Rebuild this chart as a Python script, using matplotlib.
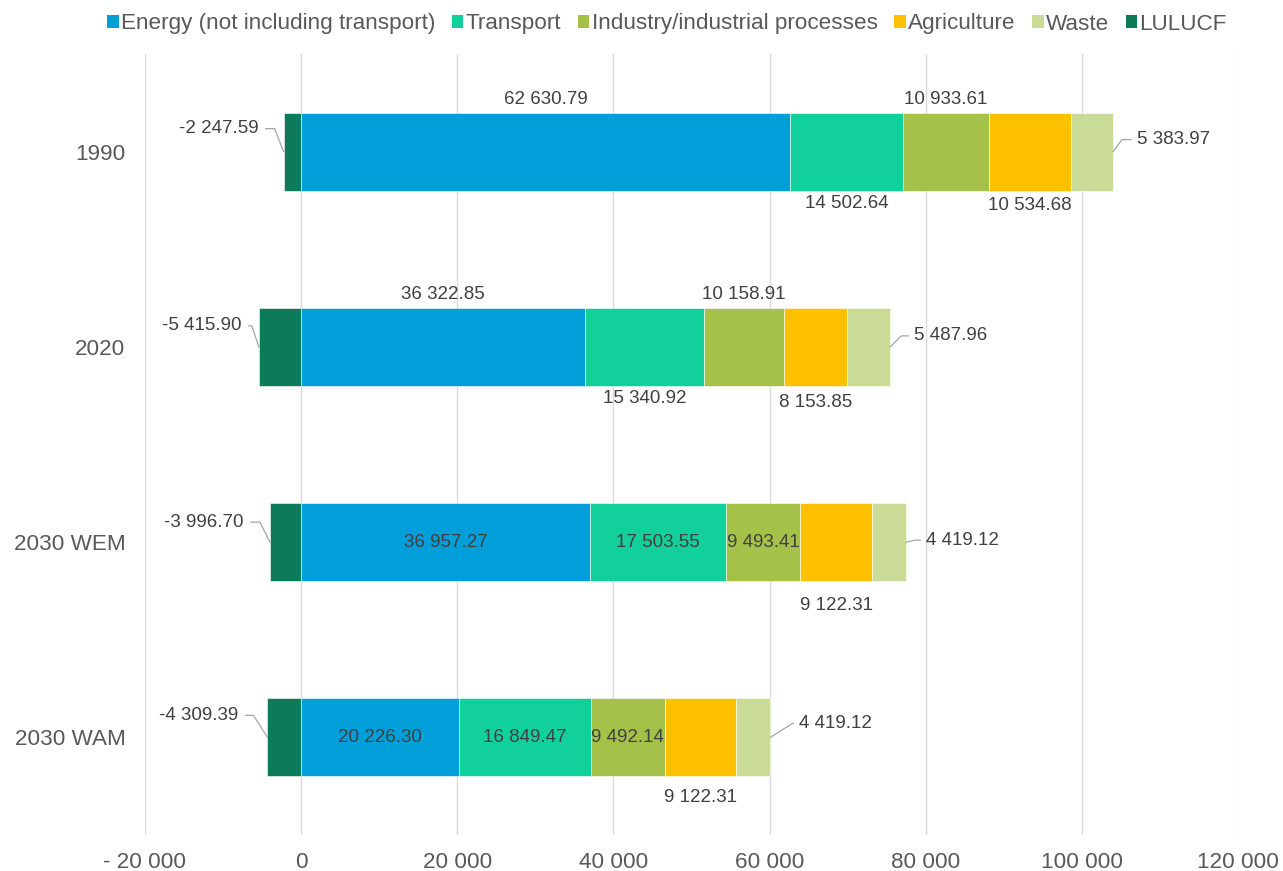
import matplotlib
matplotlib.use("Agg")
import matplotlib.pyplot as plt
import matplotlib.transforms as mtransforms
from matplotlib.patches import Patch
from matplotlib.ticker import FuncFormatter
import numpy as np

plt.rcParams['font.family'] = ['Liberation Sans', 'DejaVu Sans']

# ---------------- data ----------------
categories = ["1990", "2020", "2030 WEM", "2030 WAM"]
series_names = ["Energy (not including transport)", "Transport",
                "Industry/industrial processes", "Agriculture", "Waste", "LULUCF"]
energy = [62630.79, 36322.85, 36957.27, 20226.30]
transport = [14502.64, 15340.92, 17503.55, 16849.47]
industry = [10933.61, 10158.91, 9493.41, 9492.14]
agriculture = [10534.68, 8153.85, 9122.31, 9122.31]
waste = [5383.97, 5487.96, 4419.12, 4419.12]
lulucf = [-2247.59, -5415.90, -3996.70, -4309.39]
x_ticks = [-20000, 0, 20000, 40000, 60000, 80000, 100000, 120000]

# ---------------- styles ----------------
colors = ["#009FD9", "#12D09B", "#A6C14A", "#FFC000", "#C9DB96", "#0D7A5A"]
label_color = "#404040"
axis_color = "#595959"
grid_color = "#D9D9D9"
leader_color = "#A6A6A6"
fs = 13.5        # data labels
fs_axis = 16.2   # tick labels and legend

# label placement per series / category
placement = {
    0: ["above", "above", "inside", "inside"],
    1: ["below", "below", "inside", "inside"],
    2: ["above", "above", "inside", "inside"],
    3: ["below", "below", "below", "below"],
}
above_below_px = {0: [13, 13, 0, 0], 1: [13, 13, 0, 0], 2: [13, 13, 0, 0],
                  3: [15, 17, 24, 21]}
# leader geometry (pixels): text offset, corner x
lul_text_dx = [-25, -17, -26, -29]
lul_text_dy = [23, 21, 20, 22]
lul_corner_dx = [-9, -7, -10, -14]
was_text_dx = [24, 24, 20, 29]
was_text_dy = [12, 11, 2, 14]
was_corner_dx = [9, 11, 9, 22]

bar_h = 0.4


def fmt_num(v):
    s = f"{abs(v):,.2f}".replace(",", " ")
    return ("-" + s) if v < 0 else s


def fmt_tick(v, pos=None):
    s = f"{abs(v):,.0f}".replace(",", " ")
    return ("- " + s) if v < 0 else s


fig = plt.figure(figsize=(12.83, 8.71), dpi=100)
ax = fig.add_axes([145 / 1283, 1 - 835 / 871, (1238 - 145) / 1283, (835 - 54) / 871])

y = np.arange(len(categories))
pos_series = [energy, transport, industry, agriculture, waste]
left = np.zeros(len(categories))
lefts = []
for k, vals in enumerate(pos_series):
    ax.barh(y, vals, left=left, height=bar_h, color=colors[k],
            edgecolor="white", linewidth=0.4, zorder=3)
    lefts.append(left.copy())
    left = left + np.array(vals)
totals = left
ax.barh(y, lulucf, height=bar_h, color=colors[5], edgecolor="white",
        linewidth=0.4, zorder=3)

ax.set_xlim(-20000, 120000)
ax.set_ylim(len(categories) - 0.5, -0.5)
ax.set_xticks(x_ticks)
ax.xaxis.set_major_formatter(FuncFormatter(fmt_tick))
ax.set_yticks(y)
ax.set_yticklabels(categories)
ax.grid(axis="x", color=grid_color, linewidth=1, zorder=0)
ax.set_axisbelow(True)
for sp in ax.spines.values():
    sp.set_visible(False)
ax.tick_params(axis="both", length=0, labelsize=fs_axis, labelcolor=axis_color)
ax.tick_params(axis="x", pad=12.5)
ax.tick_params(axis="y", pad=14)

# data labels for the four main series
for k in range(4):
    vals = pos_series[k]
    for i in range(len(categories)):
        xc = lefts[k][i] + vals[i] / 2
        p = placement[k][i]
        if p == "inside":
            ax.text(xc, y[i], fmt_num(vals[i]), ha="center", va="center",
                    fontsize=fs, color=label_color, zorder=5)
        elif p == "above":
            ax.annotate(fmt_num(vals[i]), xy=(xc, y[i] - bar_h / 2),
                        xytext=(0, above_below_px[k][i]), textcoords="offset pixels",
                        ha="center", va="center", fontsize=fs, color=label_color)
        else:
            ax.annotate(fmt_num(vals[i]), xy=(xc, y[i] + bar_h / 2),
                        xytext=(0, -above_below_px[k][i]), textcoords="offset pixels",
                        ha="center", va="center", fontsize=fs, color=label_color)


def leader(x0, y0, pts):
    tr = mtransforms.Affine2D().scale(fig.dpi / 100) + \
        mtransforms.ScaledTranslation(x0, y0, ax.transData)
    xs, ys = zip(*pts)
    ax.plot(xs, ys, transform=tr, color=leader_color, lw=0.9, zorder=4,
            clip_on=False)


# LULUCF labels (left, with leader)
for i in range(len(categories)):
    x0 = lulucf[i]
    dx, dy, cx = lul_text_dx[i], lul_text_dy[i], lul_corner_dx[i]
    leader(x0, y[i], [(0, 0), (cx, dy), (dx + 7, dy)])
    ax.annotate(fmt_num(lulucf[i]), xy=(x0, y[i]), xytext=(dx, dy),
                textcoords="offset pixels", ha="right", va="center",
                fontsize=fs, color=label_color)

# Waste labels (right, with leader)
for i in range(len(categories)):
    x0 = totals[i]
    dx, dy, cx = was_text_dx[i], was_text_dy[i], was_corner_dx[i]
    leader(x0, y[i], [(0, 0), (cx, dy), (dx - 6, dy)])
    ax.annotate(fmt_num(waste[i]), xy=(x0, y[i]), xytext=(dx, dy),
                textcoords="offset pixels", ha="left", va="center",
                fontsize=fs, color=label_color)

handles = [Patch(facecolor=c, edgecolor="none") for c in colors]
fig.legend(handles, series_names, loc="center", bbox_to_anchor=(0.52, 1 - 24 / 871),
           ncol=6, frameon=False, fontsize=fs_axis, labelcolor=axis_color,
           handlelength=0.5, handleheight=0.5, handletextpad=0.1,
           columnspacing=0.75, borderaxespad=0)

fig.savefig("out.png", dpi=100)
